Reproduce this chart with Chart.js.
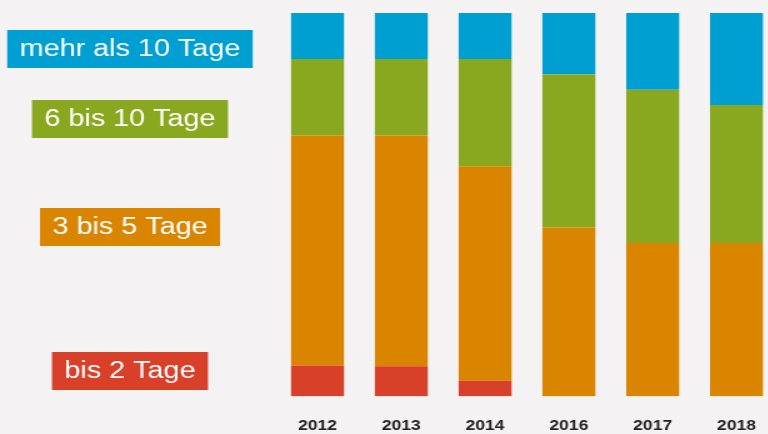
<!DOCTYPE html>
<html>
<head>
<meta charset="utf-8">
<script src="https://cdn.jsdelivr.net/npm/chart.js@4/dist/chart.umd.min.js"></script>
<style>
    html, body { margin: 0; padding: 0; background: #f4f2f3; overflow: hidden; width: 768px; height: 434px; }
    /* the source picture is stretched horizontally, so the whole canvas is too */
    #wrap { width: 630px; height: 434px; transform: scaleX(1.25); transform-origin: 0 0; }
</style>
</head>
<body>
<div id="wrap"><canvas id="dauerChart"></canvas></div>
<script>
var years = ['2012', '2013', '2014', '2016', '2017', '2018'];
var seriesNames = ['bis 2 Tage', '3 bis 5 Tage', '6 bis 10 Tage', 'mehr als 10 Tage'];
var bis2 = [8, 7.8, 4, 0, 0, 0];
var bis5 = [60, 60.2, 56, 44, 40, 40];
var bis10 = [20, 20, 28, 40, 40, 36];
var mehr10 = [12, 12, 12, 16, 20, 24];

const colors = ['#d8402a', '#d98500', '#8aa81f', '#009fd1'];
const values = [bis2, bis5, bis10, mehr10];

Chart.defaults.font.family = "'Liberation Sans', Arial, sans-serif";

// coloured name boxes on the left
const labelBoxes = {
    id: 'labelBoxes',
    afterDraw(chart, args, opts) {
        const ctx = chart.ctx;
        ctx.save();
        ctx.font = opts.size + 'px ' + Chart.defaults.font.family;
        ctx.textAlign = 'center';
        ctx.textBaseline = 'middle';
        chart.data.datasets.forEach((ds, i) => {
            const w = ctx.measureText(ds.label).width + opts.pad * 2;
            const y = opts.centers[i];
            ctx.fillStyle = ds.backgroundColor;
            ctx.fillRect(opts.x - w / 2, y - opts.h / 2, w, opts.h);
            ctx.fillStyle = '#ffffff';
            ctx.fillText(ds.label, opts.x, y + 1);
        });
        ctx.restore();
    }
};

var ctx = document.getElementById('dauerChart').getContext('2d');

var myChart = new Chart(ctx, {
    type: 'bar',
    data: {
        labels: years,
        datasets: seriesNames.map((name, i) => ({
            label: name,
            data: values[i],
            backgroundColor: colors[i],
            borderWidth: 0,
            barPercentage: 0.632,
            categoryPercentage: 1
        }))
    },
    options: {
        responsive: true,
        maintainAspectRatio: false,
        animation: false,
        layout: {
            padding: { left: 220.5, right: 7.3, top: 13, bottom: -23 }
        },
        scales: {
            x: {
                stacked: true,
                grid: { display: false, drawTicks: false },
                border: { display: false },
                ticks: {
                    color: '#222222',
                    padding: 22,
                    font: { size: 14, weight: 'bold' }
                }
            },
            y: {
                stacked: true,
                display: false,
                min: 0,
                max: 100
            }
        },
        plugins: {
            legend: { display: false },
            tooltip: { enabled: false },
            labelBoxes: {
                x: 104,
                size: 23,
                pad: 10,
                h: 38,
                centers: [371, 227, 119, 49]
            }
        }
    },
    plugins: [labelBoxes]
});
</script>
</body>
</html>
